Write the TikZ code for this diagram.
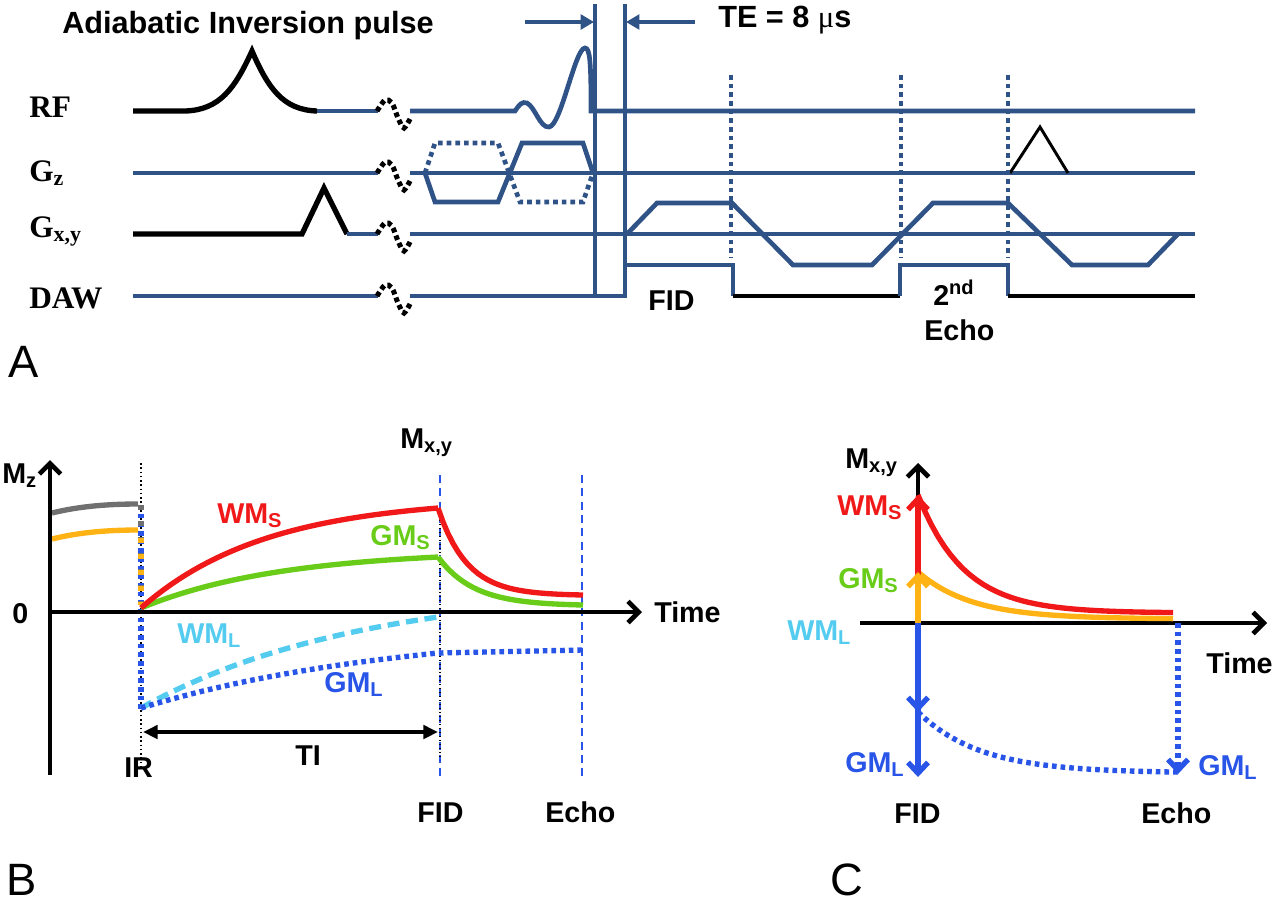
\documentclass[tikz,border=0pt]{standalone}
\usepackage{fontspec}
\setmainfont{Liberation Sans}
\newfontfamily\timesfont{Liberation Serif}
\usetikzlibrary{arrows.meta}
\definecolor{seqblue}{RGB}{47,82,135}
\definecolor{wmsred}{RGB}{240,24,24}
\definecolor{gmsgreen}{RGB}{104,204,24}
\definecolor{wmlblue}{RGB}{84,204,240}
\definecolor{gmlblue}{RGB}{40,84,232}
\definecolor{mzorange}{RGB}{255,178,20}
\definecolor{mzgray}{RGB}{112,112,112}
\begin{document}
\begin{tikzpicture}[x=0.75pt,y=-0.75pt,
  seqline/.style={seqblue,line width=3.5pt},
  blkline/.style={black,line width=3.5pt},
  blkpulse/.style={black,line width=4pt},
  brkmark/.style={black,line width=3.8pt,dash pattern=on 3.5pt off 2.5pt},
  seqdots/.style={seqblue,line width=3.5pt,dash pattern=on 3.5pt off 3pt},
  lbl/.style={anchor=base west,inner sep=0pt,font=\timesfont\bfseries\fontsize{23.5}{26}\selectfont},
  txt/.style={anchor=base west,inner sep=0pt,font=\bfseries\fontsize{21.5}{24}\selectfont},
  bigtxt/.style={txt,font=\bfseries\fontsize{23}{26}\selectfont},
  panel/.style={anchor=base west,inner sep=0pt,font=\fontsize{34}{38}\selectfont},
  axarrow/.style={line width=3.5pt,-{Straight Barb[length=8pt,width=16pt]}},
  mzcurve/.style={line width=4pt},
  barb/.style={-{Straight Barb[length=8pt,width=15pt]}},
  thindash/.style={gmlblue,line width=1.3pt,dash pattern=on 6pt off 4pt},
  bluedots/.style={gmlblue,line width=4pt,dash pattern=on 3.5pt off 3pt}]
\useasboundingbox (0,0) rectangle (1280,904);

\node[bigtxt] (title) at (62,33) {Adiabatic Inversion pulse};
\node[bigtxt] (te) at (718,27) {TE = 8 {\timesfont\mdseries μ}s};
\node[lbl] (rf) at (29,117) {RF};
\node[lbl] (gz) at (29,181) {G\textsubscript{z}};
\node[lbl] (gxy) at (29,237) {G\textsubscript{x,y}};
\node[lbl] (daw) at (29,308) {DAW};
\node[txt] (fidA) at (648,310) {FID};
\node[txt] (nd) at (933,305) {2\textsuperscript{nd}};
\node[txt] (echoA) at (924,340) {Echo};
\node[panel] (pa) at (8,377) {A};

\draw[blkpulse] (133,111) -- (185,111) .. controls (220,110) and (235,88) .. (252,51)
  .. controls (268,88) and (283,110) .. (317,111);
\draw[seqline] (317,111) -- (378,111);
\draw[seqline] (410,111) -- (515,111) .. controls (519,105) and (522,101) .. (527,103)
  .. controls (535,107) and (540,128) .. (549,127) .. controls (561,126) and (575,48) .. (585,48)
  .. controls (590,48) and (591,62) .. (591,111) -- (1195,111);
\draw[seqline] (133,173) -- (378,173);
\draw[seqline] (410,173) -- (1195,173);
\draw[seqline] (425,173) -- (435,202) -- (498,202) -- (522,143) -- (583,143) -- (593,173);
\draw[seqdots] (425,173) -- (435,143) -- (498,143) -- (520,202) -- (583,202) -- (593,173);
\draw[black,line width=2.2pt] (1010,173) -- (1040,127) -- (1068,173);
\draw[blkpulse] (133,234) -- (302,234) -- (324,188) -- (347,234);
\draw[seqline] (347,234) -- (378,234);
\draw[seqline] (410,234) -- (1195,234);
\draw[seqline] (627,234) -- (657,203) -- (732,203) -- (793,265) -- (872,265) -- (933,203)
  -- (1008,203) -- (1072,265) -- (1148,265) -- (1178,234);
\draw[seqline] (133,296) -- (378,296);
\draw[seqline] (410,296) -- (625,296) -- (625,265) -- (733,265) -- (733,296);
\draw[blkline] (733,296) -- (900,296);
\draw[seqline] (900,296) -- (900,265) -- (1008,265) -- (1008,296);
\draw[blkline] (1008,296) -- (1195,296);
\draw[seqline] (595,4) -- (595,296);
\draw[seqline] (625,4) -- (625,296);
\draw[seqline,-{Triangle[length=10pt,width=11pt]}] (525,22) -- (594,22);
\draw[seqline,-{Triangle[length=10pt,width=11pt]}] (695,22) -- (626,22);
\foreach \t in {731,901,1008}
  \draw[seqdots] (\t,75) -- (\t,258);
\foreach \r in {111,173,234,296}
  \draw[brkmark] plot[smooth] coordinates {(377,\r) ({385},{\r-11}) ({392},{\r-8}) ({398},{\r+7}) ({404},{\r+17}) ({411},{\r+6})};

\node[txt] (mz) at (2,483) {M\textsubscript{z}};
\node[txt] (zero) at (12,623) {0};
\node[txt] (timeB) at (654,622) {Time};
\node[txt] (mxyB) at (400,448) {M\textsubscript{x,y}};
\node[txt,wmsred] (wmsB) at (217,523) {WM\textsubscript{S}};
\node[txt,gmsgreen] (gmsB) at (370,545) {GM\textsubscript{S}};
\node[txt,wmlblue] (wmlB) at (177,643) {WM\textsubscript{L}};
\node[txt,gmlblue] (gmlB) at (324,692) {GM\textsubscript{L}};
\node[txt] (ir) at (124,777) {IR};
\node[txt] (ti) at (295,765) {TI};
\node[txt] (fidB) at (417,822) {FID};
\node[txt] (echoB) at (545,822) {Echo};
\node[panel] (pb) at (6,895) {B};

\draw[thindash] (440,475) -- (440,777);
\draw[thindash] (582,475) -- (582,777);
\draw[black,line width=1pt,dotted] (440,508) -- (440,760);
\draw[black,line width=1.2pt,dotted] (141,463) -- (141,768);
\draw[mzgray,mzcurve] (52,513) .. controls (80,506) and (110,504) .. (138,504);
\draw[mzorange,mzcurve] (52,539) .. controls (80,532) and (110,530) .. (138,530);
\draw[bluedots] (141,505) -- (141,712);
\draw[mzgray,line width=4pt,dash pattern=on 4pt off 8pt] (141,505) -- (141,605);
\draw[mzorange,line width=4pt,dash pattern=on 4pt off 8pt,dash phase=-6pt] (141,530) -- (141,605);
\draw[wmlblue,mzcurve,dash pattern=on 9pt off 5pt] plot[domain=141:438,samples=40]
  (\x,{708-91*(1-exp(-(\x-141)/220))/(1-exp(-297/220))});
\draw[bluedots] plot[domain=141:438,samples=40]
  (\x,{708-55*(1-exp(-(\x-141)/267))/(1-exp(-297/267))}) -- (583,650);
\draw[gmsgreen,mzcurve] plot[domain=141:438,samples=40]
  (\x,{608-51*(1-exp(-(\x-141)/140))/(1-exp(-297/140))});
\draw[gmsgreen,mzcurve] plot[domain=438:583,samples=30]
  (\x,{605-48*(exp(-(\x-438)/36)-exp(-145/36))/(1-exp(-145/36))});
\draw[wmsred,mzcurve] plot[domain=141:438,samples=40]
  (\x,{608-100*(1-exp(-(\x-141)/125))/(1-exp(-297/125))});
\draw[wmsred,mzcurve] plot[domain=438:583,samples=30]
  (\x,{595-87*(exp(-(\x-438)/29)-exp(-145/29))/(1-exp(-145/29))});
\draw[axarrow] (50,775) -- (50,460);
\draw[axarrow] (48,612) -- (642,612);
\draw[line width=3.5pt,{Triangle[length=11pt,width=10pt]}-{Triangle[length=11pt,width=10pt]}] (143,732) -- (438,732);

\node[txt] (mxyC) at (845,468) {M\textsubscript{x,y}};
\node[txt,wmsred] (wmsC) at (837,515) {WM\textsubscript{S}};
\node[txt,gmsgreen] (gmsC) at (838,588) {GM\textsubscript{S}};
\node[txt,wmlblue] (wmlC) at (787,640) {WM\textsubscript{L}};
\node[txt,gmlblue] (gmlC) at (845,772) {GM\textsubscript{L}};
\node[txt,gmlblue] (gmlE) at (1198,775) {GM\textsubscript{L}};
\node[txt] (timeC) at (1206,673) {Time};
\node[txt] (fidC) at (894,823) {FID};
\node[txt] (echoC) at (1141,823) {Echo};
\node[panel] (pc) at (830,895) {C};

\draw[axarrow] (918,623) -- (918,463);
\draw[axarrow] (860,623) -- (1267,623);
\draw[wmsred,mzcurve] plot[domain=918:1173,samples=40] (\x,{613-118*exp(-(\x-918)/46)});
\draw[mzorange,mzcurve] plot[domain=918:1173,samples=40] (\x,{619-47*exp(-(\x-918)/54)});
\draw[wmsred,mzcurve,barb] (918,623) -- (918,495);
\draw[mzorange,mzcurve,barb] (918,623) -- (918,572);
\draw[gmlblue,mzcurve,barb] (918,623) -- (918,777);
\draw[gmlblue,mzcurve,barb] (918,623) -- (918,712);
\draw[bluedots] plot[domain=918:1178,samples=40] (\x,{773-61*exp(-(\x-918)/62)});
\draw[bluedots,barb] (1178,623) -- (1178,774);
\end{tikzpicture}
\end{document}
